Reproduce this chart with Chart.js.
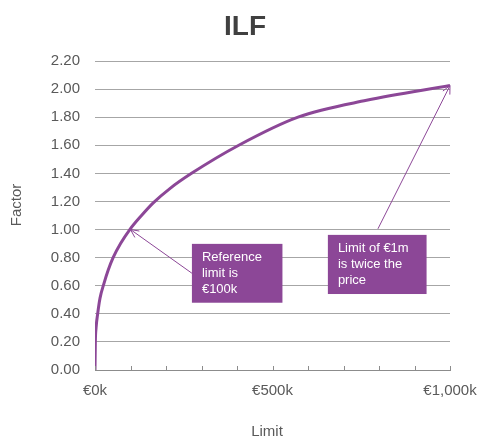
<!DOCTYPE html>
<html>
<head>
<meta charset="utf-8">
<script src="https://cdn.jsdelivr.net/npm/chart.js@4.4.1/dist/chart.umd.min.js"></script>
<style>
  html, body { margin: 0; padding: 0; background: #ffffff; }
  #wrap { width: 481px; height: 440px; position: relative; }
</style>
</head>
<body>
<div id="wrap"><canvas id="c" width="481" height="440"></canvas></div>
<script>
// ---- data ----
const limits  = [0, 1000, 3000, 7500, 14000, 24500, 37000, 51000, 72000, 98000, 131000, 164000, 210000, 272000, 405000, 572000, 765000, 1000000];
const factors = [0, 0.20, 0.30, 0.40, 0.51, 0.61, 0.71, 0.80, 0.90, 1.00, 1.10, 1.19, 1.29, 1.40, 1.60, 1.80, 1.92, 2.025];
const xLabelledTicks = [0, 500000, 1000000];
const chartTitle = 'ILF';
const xTitle = 'Limit';
const yTitle = 'Factor';

// annotation callouts (text + anchor points in data units)
const noteTexts = [["Reference", "limit is", "€100k"], ["Limit of €1m", "is twice the", "price"]];
const noteTargets = [{x: 100000, y: 1.00}, {x: 1000000, y: 2.025}];
const noteTails = [{x: 273000, y: 0.689}, {x: 797000, y: 1.005}];
const noteBoxes = [{x0: 273000, x1: 528000, y0: 0.898, y1: 0.479}, {x0: 656000, x1: 934000, y0: 0.962, y1: 0.541}];

const PURPLE = '#8C4797';
const FONT = "'Liberation Sans', Arial, sans-serif";

const points = limits.map((l, i) => ({x: l, y: factors[i]}));

const calloutPlugin = {
  id: 'callouts',
  afterDatasetsDraw(chart) {
    const ctx = chart.ctx;
    const xs = chart.scales.x, ys = chart.scales.y;
    ctx.save();
    // chart title
    ctx.fillStyle = '#404040';
    ctx.font = 'bold 28px ' + FONT;
    ctx.textAlign = 'center';
    ctx.textBaseline = 'middle';
    ctx.fillText(chartTitle, 245, 27);
    // axis titles
    ctx.fillStyle = '#595959';
    ctx.font = '15px ' + FONT;
    ctx.fillText(xTitle, 267, 432);
    ctx.save();
    ctx.translate(17, 205);
    ctx.rotate(-Math.PI / 2);
    ctx.fillText(yTitle, 0, 0);
    ctx.restore();
    // inside tick marks on x axis
    ctx.strokeStyle = '#8c8c8c';
    ctx.lineWidth = 1;
    xs.ticks.forEach(t => {
      const px = Math.round(xs.getPixelForValue(t.value)) + 0.5;
      ctx.beginPath();
      ctx.moveTo(px, ys.bottom);
      ctx.lineTo(px, ys.bottom - 4);
      ctx.stroke();
    });
    // arrows
    ctx.strokeStyle = PURPLE;
    ctx.lineWidth = 1;
    noteTargets.forEach((tg, i) => {
      const tx = xs.getPixelForValue(tg.x), ty = ys.getPixelForValue(tg.y);
      const sx = xs.getPixelForValue(noteTails[i].x), sy = ys.getPixelForValue(noteTails[i].y);
      ctx.beginPath();
      ctx.moveTo(sx, sy);
      ctx.lineTo(tx, ty);
      ctx.stroke();
      const ang = Math.atan2(ty - sy, tx - sx);
      const len = 9, spread = 0.45;
      ctx.beginPath();
      ctx.moveTo(tx - len * Math.cos(ang - spread), ty - len * Math.sin(ang - spread));
      ctx.lineTo(tx, ty);
      ctx.lineTo(tx - len * Math.cos(ang + spread), ty - len * Math.sin(ang + spread));
      ctx.stroke();
    });
    // boxes and text
    noteBoxes.forEach((b, i) => {
      const x0 = xs.getPixelForValue(b.x0), x1 = xs.getPixelForValue(b.x1);
      const y0 = ys.getPixelForValue(b.y0), y1 = ys.getPixelForValue(b.y1);
      ctx.fillStyle = PURPLE;
      ctx.fillRect(x0, y0, x1 - x0, y1 - y0);
      ctx.fillStyle = '#ffffff';
      ctx.font = '13px ' + FONT;
      ctx.textAlign = 'left';
      ctx.textBaseline = 'middle';
      noteTexts[i].forEach((line, j) => {
        ctx.fillText(line, x0 + 10, y0 + 13.5 + j * 16);
      });
    });
    ctx.restore();
  }
};

new Chart(document.getElementById('c'), {
  type: 'line',
  data: {
    datasets: [{
      data: points,
      borderColor: PURPLE,
      borderWidth: 3,
      pointRadius: 0,
      fill: false,
      cubicInterpolationMode: 'monotone'
    }]
  },
  options: {
    responsive: false,
    animation: false,
    events: [],
    layout: { padding: { top: 61, right: 0, bottom: 0, left: 0 } },
    plugins: {
      legend: { display: false },
      tooltip: { enabled: false },
      title: { display: false }
    },
    scales: {
      x: {
        type: 'linear',
        min: 0,
        max: 1000000,
        afterFit(scale) { scale.height = 70; scale.paddingRight = 31; scale.paddingLeft = 0; },
        ticks: {
          stepSize: 100000,
          autoSkip: false,
          maxRotation: 0,
          padding: 12,
          color: '#595959',
          font: { family: FONT, size: 15 },
          callback: (v) => xLabelledTicks.includes(v) ? '€' + (v / 1000).toLocaleString('en-US') + 'k' : ''
        },
        grid: { drawOnChartArea: false, drawTicks: false },
        border: { display: true, color: '#8c8c8c', width: 1 },
        title: { display: false }
      },
      y: {
        min: 0,
        max: 2.2,
        afterFit(scale) { scale.width = 95; },
        ticks: {
          stepSize: 0.2,
          padding: 15,
          color: '#595959',
          font: { family: FONT, size: 15 },
          callback: (v) => Number(v).toFixed(2)
        },
        grid: { color: '#a6a6a6', lineWidth: 1, drawTicks: false },
        border: { display: false },
        title: { display: false }
      }
    }
  },
  plugins: [calloutPlugin]
});
</script>
</body>
</html>
